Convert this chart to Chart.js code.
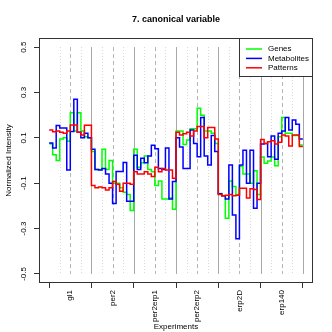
<!DOCTYPE html>
<html>
<head>
<meta charset="utf-8">
<script src="https://cdn.jsdelivr.net/npm/chart.js@4.4.0/dist/chart.umd.min.js"></script>
<style>
    html, body { margin: 0; padding: 0; background: #fff; }
</style>
</head>
<body>
<canvas id="cvChart" width="332" height="332"></canvas>
<script>
const experiments = ['gl1', 'per2', 'per2erp1', 'per2erp2', 'erp2D', 'erp140'];
const seriesNames = ['Genes', 'Metabolites', 'Patterns'];
const yTicks = [-0.5, -0.3, -0.1, 0.1, 0.3, 0.5];
const yTickLabels = ['-0.5', '-0.3', '-0.1', '0.1', '0.3', '0.5'];

const genes = [
    0.074, 0.025, 0.0, 0.095, 0.1, 0.085, 0.21, 0.13, 0.21, 0.13, 0.105, 0.1,
    0.04, -0.04, -0.04, 0.05, -0.04, 0.0, -0.1, -0.1, -0.12, -0.14, -0.15, -0.22,
    0.05, -0.03, -0.01, 0.02, -0.04, -0.05, -0.11, -0.09, -0.17, -0.17, -0.165, -0.215,
    0.13, 0.13, 0.07, 0.09, 0.14, 0.14, 0.23, 0.2, 0.13, 0.13, 0.12, 0.075,
    -0.145, -0.155, -0.255, -0.09, -0.115, -0.15, -0.025, -0.06, -0.06, -0.1, -0.045, -0.15,
    0.015, -0.012, -0.002, 0.015, -0.023, 0.105, 0.19, 0.12, 0.12, 0.11, 0.11, 0.068
];
const metabolites = [
    0.077, 0.055, 0.154, 0.143, 0.143, -0.042, 0.128, 0.27, 0.125, 0.1, 0.12, 0.1,
    0.05, -0.04, -0.042, -0.035, -0.06, -0.1, -0.19, -0.048, -0.048, -0.009, -0.18, -0.18,
    0.023, -0.04, 0.01, -0.01, 0.02, 0.067, 0.052, -0.035, -0.04, 0.055, -0.17, -0.093,
    0.1, 0.06, -0.035, -0.035, 0.135, 0.075, 0.017, 0.19, 0.02, -0.02, 0.11, 0.04,
    -0.147, -0.155, -0.17, -0.02, -0.24, -0.345, -0.02, 0.045, -0.1, 0.045, -0.21, -0.1,
    0.073, 0.075, 0.017, 0.108, 0.006, 0.12, 0.13, 0.19, 0.135, 0.178, 0.16, 0.095
];
const patterns = [
    0.135, 0.127, 0.13, 0.125, 0.12, 0.13, 0.157, 0.157, 0.125, 0.112, 0.155, 0.155,
    -0.11, -0.12, -0.117, -0.12, -0.13, -0.12, -0.093, -0.105, -0.135, -0.1, -0.1, -0.105,
    -0.05, -0.06, -0.06, -0.05, -0.06, -0.07, -0.03, -0.05, -0.035, -0.042, -0.042, -0.078,
    0.125, 0.112, 0.118, 0.124, 0.108, 0.13, 0.15, 0.15, 0.1, 0.145, 0.145, 0.095,
    -0.15, -0.155, -0.153, -0.15, -0.155, -0.153, -0.122, -0.122, -0.165, -0.125, -0.128, -0.172,
    0.093, 0.075, 0.083, 0.087, 0.073, 0.08, 0.112, 0.108, 0.064, 0.112, 0.112, 0.062
];

const PER_EXP = 12;
const N = experiments.length * PER_EXP;
const FONT = '"Liberation Sans", Arial, Helvetica, sans-serif';

// cada valor vale de i até i+1 (degrau), então repete o último ponto
function toSteps(vals) {
    const pts = vals.map((v, i) => ({ x: i, y: v }));
    pts.push({ x: vals.length, y: vals[vals.length - 1] });
    return pts;
}

// linhas verticais de referência (pontilhadas / tracejadas / sólidas)
const guideLines = {
    id: 'guideLines',
    beforeDatasetsDraw(chart) {
        const { ctx, scales: { x, y } } = chart;
        const top = y.getPixelForValue(0.5);
        const bottom = y.getPixelForValue(-0.5);
        ctx.save();
        ctx.lineWidth = 1;
        for (let k = 3; k <= N; k += 3) {
            const px = Math.round(x.getPixelForValue(k)) + 0.5;
            if (k % PER_EXP === 0) {
                ctx.strokeStyle = '#a8a8a8';
                ctx.setLineDash([]);
            } else if (k % 6 === 0) {
                ctx.strokeStyle = '#b4b4b4';
                ctx.setLineDash([4, 3]);
            } else {
                ctx.strokeStyle = '#d8d8d8';
                ctx.setLineDash([1, 2]);
            }
            ctx.beginPath();
            ctx.moveTo(px, top);
            ctx.lineTo(px, bottom);
            ctx.stroke();
        }
        ctx.restore();
    }
};

// legenda com caixa, no canto superior direito (estilo R)
const boxLegend = {
    id: 'boxLegend',
    afterDatasetsDraw(chart) {
        const { ctx, chartArea: a } = chart;
        const w = 74, h = 39;
        const left = a.right - w, top = a.top;
        ctx.save();
        ctx.fillStyle = '#fff';
        ctx.fillRect(left, top, w, h);
        ctx.strokeStyle = '#333';
        ctx.lineWidth = 1;
        ctx.strokeRect(left + 0.5, top + 0.5, w - 1, h - 1);
        ctx.font = '8px ' + FONT;
        ctx.textBaseline = 'middle';
        ctx.textAlign = 'left';
        chart.data.datasets.forEach((ds, i) => {
            const yy = top + 11 + i * 9.4;
            ctx.strokeStyle = ds.borderColor;
            ctx.lineWidth = 1.5;
            ctx.beginPath();
            ctx.moveTo(left + 7, yy);
            ctx.lineTo(left + 23, yy);
            ctx.stroke();
            ctx.fillStyle = '#000';
            ctx.fillText(ds.label, left + 29, yy);
        });
        ctx.restore();
    }
};

// moldura em volta da área do gráfico
const plotBox = {
    id: 'plotBox',
    afterDraw(chart) {
        const { ctx, chartArea: a } = chart;
        ctx.save();
        ctx.strokeStyle = '#333';
        ctx.lineWidth = 1;
        ctx.strokeRect(Math.round(a.left) + 0.5, Math.round(a.top) + 0.5,
            Math.round(a.right - a.left) - 1, Math.round(a.bottom - a.top) - 1);
        ctx.restore();
    }
};

const ctx = document.getElementById('cvChart').getContext('2d');
new Chart(ctx, {
    type: 'line',
    data: {
        datasets: [
            { label: seriesNames[0], data: toSteps(genes), borderColor: '#00ff00', order: 2 },
            { label: seriesNames[1], data: toSteps(metabolites), borderColor: '#0000ff', order: 1 },
            { label: seriesNames[2], data: toSteps(patterns), borderColor: '#ff0000', order: 0 }
        ]
    },
    options: {
        responsive: false,
        animation: false,
        devicePixelRatio: 1,
        layout: { padding: { left: 0, right: 19, top: 0, bottom: 0 } },
        elements: {
            line: { borderWidth: 1.5, stepped: 'before', fill: false, tension: 0 },
            point: { radius: 0 }
        },
        plugins: {
            legend: { display: false },
            tooltip: { enabled: false },
            title: {
                display: true,
                text: '7. canonical variable',
                fullSize: false,
                color: '#000',
                font: { family: FONT, size: 9, weight: 'bold' },
                padding: { top: 14, bottom: 13.2 }
            }
        },
        scales: {
            x: {
                type: 'linear',
                min: -0.04 * N,
                max: N * 1.04,
                afterBuildTicks(s) {
                    const t = [];
                    for (let k = 0; k <= N; k += PER_EXP / 2) t.push({ value: k });
                    s.ticks = t;
                },
                afterFit(s) { s.height = 49; },
                ticks: {
                    autoSkip: false,
                    minRotation: 90,
                    maxRotation: 90,
                    padding: 2,
                    color: '#000',
                    font: { family: FONT, size: 8 },
                    callback: (v) => (v % PER_EXP === PER_EXP / 2 ? experiments[(v - PER_EXP / 2) / PER_EXP] : '')
                },
                grid: {
                    drawOnChartArea: false,
                    tickLength: 5,
                    tickColor: (c) => (c.tick && c.tick.value % PER_EXP === 0 ? '#333' : 'rgba(0,0,0,0)')
                },
                border: { display: false },
                title: {
                    display: true,
                    text: 'Experiments',
                    color: '#000',
                    font: { family: FONT, size: 8 },
                    padding: { top: 0, bottom: 0 }
                }
            },
            y: {
                min: -0.54,
                max: 0.54,
                afterBuildTicks(s) { s.ticks = yTicks.map(v => ({ value: v })); },
                afterFit(s) { s.width = 39; },
                ticks: {
                    minRotation: 90,
                    maxRotation: 90,
                    crossAlign: 'center',
                    padding: 3,
                    color: '#000',
                    font: { family: FONT, size: 8 },
                    callback: (v) => yTickLabels[yTicks.indexOf(v)]
                },
                grid: { drawOnChartArea: false, tickLength: 5, tickColor: '#333' },
                border: { display: false },
                title: {
                    display: true,
                    text: 'Normalized Intensity',
                    color: '#000',
                    font: { family: FONT, size: 8 },
                    padding: { top: 4, bottom: 0 }
                }
            }
        }
    },
    plugins: [guideLines, boxLegend, plotBox]
});
</script>
</body>
</html>
